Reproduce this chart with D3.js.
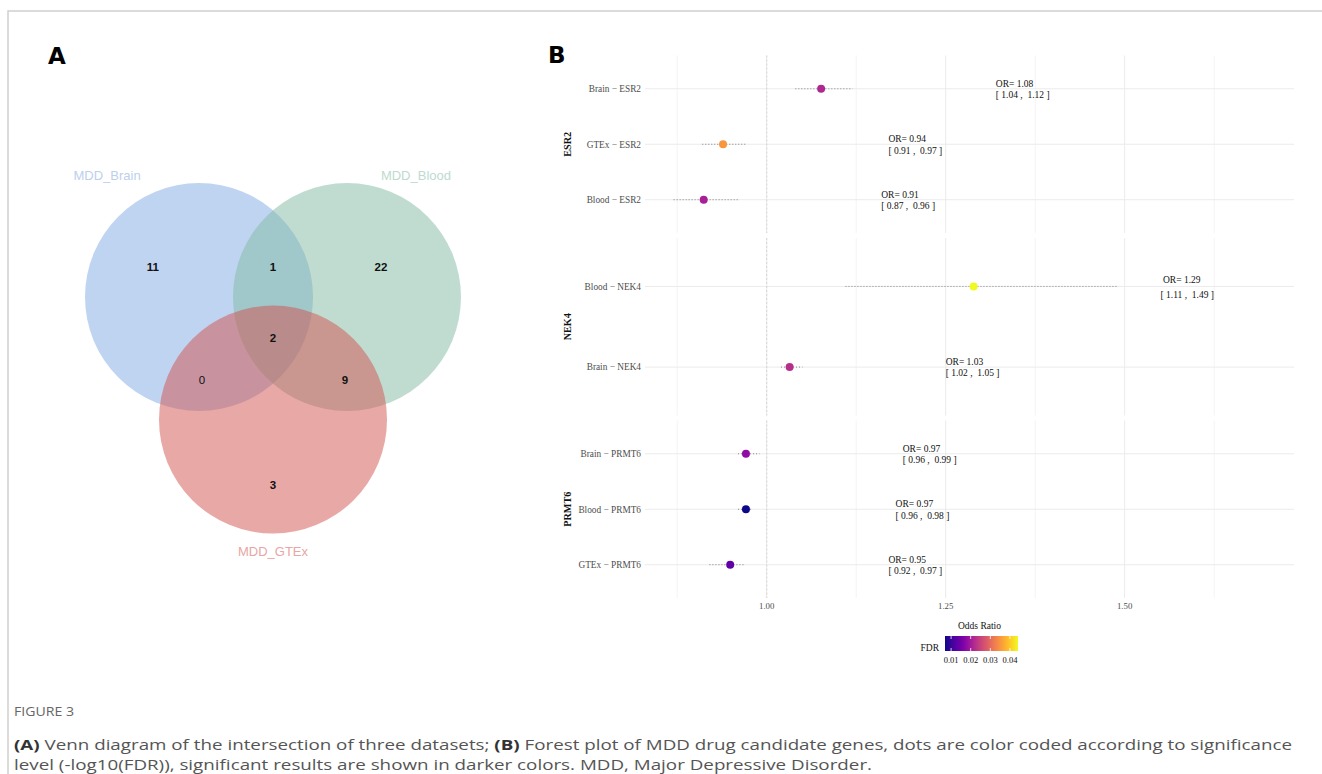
<!DOCTYPE html>
<html>
<head>
<meta charset="utf-8">
<script src="https://cdn.jsdelivr.net/npm/d3@7"></script>
<style>
  body { margin: 0; background: #fff; }
  svg text { white-space: pre; }
</style>
</head>
<body>
<svg id="chart" width="1322" height="774"></svg>
<script>
// ---------------- DATA ----------------
// Venn (panel A)
const vennSets = ["MDD_Brain", "MDD_Blood", "MDD_GTEx"];
const vennRegions = ["Brain", "Brain&Blood", "Blood", "Brain&Blood&GTEx", "Brain&GTEx", "Blood&GTEx", "GTEx"];
const vennCounts = [11, 1, 22, 2, 0, 9, 3];

// Forest plot (panel B), rows listed top-to-bottom within each gene facet
const genes = ["ESR2", "NEK4", "PRMT6"];
const rowLabels = ["Brain − ESR2", "GTEx − ESR2", "Blood − ESR2",
                   "Blood − NEK4", "Brain − NEK4",
                   "Brain − PRMT6", "Blood − PRMT6", "GTEx − PRMT6"];
const rowGene = ["ESR2", "ESR2", "ESR2", "NEK4", "NEK4", "PRMT6", "PRMT6", "PRMT6"];
const orValues = [1.076, 0.939, 0.912, 1.289, 1.032, 0.971, 0.971, 0.949];
const ciLow   = [1.04, 0.91, 0.87, 1.11, 1.02, 0.96, 0.96, 0.92];
const ciHigh  = [1.12, 0.97, 0.96, 1.49, 1.05, 0.99, 0.98, 0.97];
const fdrValues = [0.0215, 0.035, 0.0205, 0.044, 0.0225, 0.018, 0.007, 0.0135];
const xTicks = [1.00, 1.25, 1.50];
const xMinorTicks = [0.875, 1.125, 1.375, 1.625];
const fdrTicks = [0.01, 0.02, 0.03, 0.04];

// ---------------- LAYOUT ----------------
const svg = d3.select("#chart");
const serif = "'Liberation Serif', 'DejaVu Serif', serif";
const sans = "'Liberation Sans', Arial, sans-serif";

// frame
svg.append("path").attr("d", "M8,774 V11 H1322")
  .attr("fill", "none").attr("stroke", "#cfcfcf").attr("stroke-width", 1.5);

// panel letters
svg.append("text").attr("x", 48).attr("y", 64).text("A")
  .attr("font-family", "'DejaVu Sans', sans-serif").attr("font-weight", "bold").attr("font-size", 23);
svg.append("text").attr("x", 548).attr("y", 63).text("B")
  .attr("font-family", "'DejaVu Sans', sans-serif").attr("font-weight", "bold").attr("font-size", 23);

// ---------------- VENN ----------------
const vUnit = 114;
const vx = d3.scaleLinear().domain([0, 1]).range([273, 273 + vUnit]);
const vy = d3.scaleLinear().domain([0, 1]).range([297, 297 + vUnit]);
const circleLayout = [{cx: -0.649, cy: 0}, {cx: 0.649, cy: 0}, {cx: 0, cy: 1.075}];
const circleFill = ["#7fa9e1", "#81b9a1", "#d1514d"];
const setLabelColor = ["#bcd0ee", "#bddbcf", "#e8a6a4"];
const setLabelPos = [{x: -1.456, y: -1.07}, {x: 1.254, y: -1.07}, {x: 0, y: 2.23}];
const regionPos = [{x: -1.053, y: -0.263}, {x: 0, y: -0.263}, {x: 0.947, y: -0.263},
                   {x: 0, y: 0.36}, {x: -0.623, y: 0.728}, {x: 0.632, y: 0.728}, {x: 0, y: 1.65}];

const gV = svg.append("g");
gV.selectAll("circle").data(vennSets).join("circle")
  .attr("cx", (d, i) => vx(circleLayout[i].cx))
  .attr("cy", (d, i) => vy(circleLayout[i].cy))
  .attr("r", vx(1) - vx(0))
  .attr("fill", (d, i) => circleFill[i])
  .attr("fill-opacity", 0.5);
gV.selectAll("text.set").data(vennSets).join("text").attr("class", "set")
  .attr("x", (d, i) => vx(setLabelPos[i].x))
  .attr("y", (d, i) => vy(setLabelPos[i].y))
  .attr("dy", "0.35em").attr("text-anchor", "middle")
  .attr("font-family", sans).attr("font-size", 13)
  .attr("fill", (d, i) => setLabelColor[i]).text(d => d);
gV.selectAll("text.cnt").data(vennCounts).join("text").attr("class", "cnt")
  .attr("x", (d, i) => vx(regionPos[i].x))
  .attr("y", (d, i) => vy(regionPos[i].y))
  .attr("dy", "0.35em").attr("text-anchor", "middle")
  .attr("font-family", sans).attr("font-weight", (d) => d === 0 ? "normal" : "bold")
  .attr("font-size", 11.5).attr("fill", "#111").text(d => d);

// ---------------- FOREST ----------------
const panelLeft = 645, panelRight = 1294;
const x = d3.scaleLinear().domain([0.83, 1.7365]).range([panelLeft, panelRight]);
const panelTop0 = 55.5, panelH = 177.5, panelGap = 5;
const color = d3.scaleSequential(d3.interpolatePlasma).domain([0.0069, 0.0441]);

const rows = rowLabels.map((lab, i) => ({
  label: lab, gene: rowGene[i], or: orValues[i], lo: ciLow[i], hi: ciHigh[i], fdr: fdrValues[i]
}));

const gF = svg.append("g");
genes.forEach((gene, gi) => {
  const top = panelTop0 + gi * (panelH + panelGap);
  const bottom = top + panelH;
  const pr = rows.filter(r => r.gene === gene);
  const y = d3.scalePoint().domain(pr.map(r => r.label)).range([top, bottom]).padding(0.6);
  const g = gF.append("g");

  // minor vertical grid
  g.selectAll("line.vmin").data(xMinorTicks).join("line").attr("class", "vmin")
    .attr("x1", d => x(d)).attr("x2", d => x(d)).attr("y1", top).attr("y2", bottom)
    .attr("stroke", "#f1f1f1").attr("stroke-width", 0.8);
  // major vertical grid
  g.selectAll("line.vmaj").data(xTicks).join("line").attr("class", "vmaj")
    .attr("x1", d => x(d)).attr("x2", d => x(d)).attr("y1", top).attr("y2", bottom)
    .attr("stroke", "#ebebeb").attr("stroke-width", 1);
  // horizontal grid
  g.selectAll("line.h").data(pr).join("line").attr("class", "h")
    .attr("x1", panelLeft).attr("x2", panelRight)
    .attr("y1", d => y(d.label)).attr("y2", d => y(d.label))
    .attr("stroke", "#ebebeb").attr("stroke-width", 1);
  // reference line at OR = 1
  g.append("line").attr("x1", x(1)).attr("x2", x(1)).attr("y1", top).attr("y2", bottom)
    .attr("stroke", "#cfcfcf").attr("stroke-width", 0.8).attr("stroke-dasharray", "2,2");

  // CI lines
  g.selectAll("line.ci").data(pr).join("line").attr("class", "ci")
    .attr("x1", d => x(d.lo)).attr("x2", d => x(d.hi))
    .attr("y1", d => y(d.label)).attr("y2", d => y(d.label))
    .attr("stroke", "#777").attr("stroke-width", 0.9).attr("stroke-dasharray", "1,2");
  // points
  g.selectAll("circle").data(pr).join("circle")
    .attr("cx", d => x(d.or)).attr("cy", d => y(d.label)).attr("r", 4)
    .attr("fill", d => color(d.fdr));

  // row labels
  g.selectAll("text.row").data(pr).join("text").attr("class", "row")
    .attr("x", panelLeft - 4).attr("y", d => y(d.label)).attr("dy", "0.35em")
    .attr("text-anchor", "end").attr("font-family", serif).attr("font-size", 9.3)
    .attr("fill", "#4d4d4d").text(d => d.label);

  // OR annotations (wider spacing when the label is pushed in from the right edge)
  const ann = g.selectAll("text.ann").data(pr).join("text").attr("class", "ann")
    .attr("font-family", serif).attr("font-size", 9.5).attr("fill", "#111");
  const annX = d => x(Math.min(d.hi + 0.2, 1.55));
  const pushed = d => d.hi + 0.2 > 1.55;
  ann.append("tspan")
    .attr("x", d => annX(d) + (pushed(d) ? 2.5 : 0))
    .attr("y", d => y(d.label) - (pushed(d) ? 7 : 5.5)).attr("dy", "0.35em")
    .text(d => "OR= " + d.or.toFixed(2));
  ann.append("tspan")
    .attr("x", annX).attr("y", d => y(d.label) + (pushed(d) ? 8 : 6)).attr("dy", "0.35em")
    .text(d => "[ " + d.lo.toFixed(2) + " ,  " + d.hi.toFixed(2) + " ]");

  // facet strip label
  g.append("text")
    .attr("transform", `translate(${567},${(top + bottom) / 2}) rotate(-90)`)
    .attr("text-anchor", "middle").attr("dy", "0.35em")
    .attr("font-family", serif).attr("font-weight", "bold").attr("font-size", 10.2)
    .attr("fill", "#111").text(gene);
});

// x axis tick labels
const axisY = panelTop0 + 3 * panelH + 2 * panelGap;
gF.selectAll("text.xt").data(xTicks).join("text").attr("class", "xt")
  .attr("x", d => x(d)).attr("y", axisY + 8).attr("dy", "0.35em")
  .attr("text-anchor", "middle").attr("font-family", serif).attr("font-size", 8.8)
  .attr("fill", "#4d4d4d").text(d => d.toFixed(2));
// x axis title
gF.append("text").attr("x", (panelLeft + panelRight) / 2 + 10).attr("y", axisY + 28).attr("dy", "0.35em")
  .attr("text-anchor", "middle").attr("font-family", serif).attr("font-size", 9.5)
  .attr("fill", "#111").text("Odds Ratio");

// ---------------- LEGEND ----------------
const lgX0 = 945, lgX1 = 1018, lgY = 636, lgH = 15;
const lx = d3.scaleLinear().domain(color.domain()).range([lgX0, lgX1]);
const defs = svg.append("defs");
const grad = defs.append("linearGradient").attr("id", "plasmaGrad");
d3.range(0, 1.0001, 0.05).forEach(t => {
  grad.append("stop").attr("offset", t).attr("stop-color", d3.interpolatePlasma(t));
});
const gL = svg.append("g");
gL.append("rect").attr("x", lgX0).attr("y", lgY).attr("width", lgX1 - lgX0).attr("height", lgH)
  .attr("fill", "url(#plasmaGrad)");
gL.selectAll("line.tt").data(fdrTicks).join("line").attr("class", "tt")
  .attr("x1", d => lx(d)).attr("x2", d => lx(d)).attr("y1", lgY).attr("y2", lgY + 3)
  .attr("stroke", "#fff").attr("stroke-width", 0.8);
gL.selectAll("line.tb").data(fdrTicks).join("line").attr("class", "tb")
  .attr("x1", d => lx(d)).attr("x2", d => lx(d)).attr("y1", lgY + lgH - 3).attr("y2", lgY + lgH)
  .attr("stroke", "#fff").attr("stroke-width", 0.8);
gL.selectAll("text.tl").data(fdrTicks).join("text").attr("class", "tl")
  .attr("x", d => lx(d)).attr("y", lgY + lgH + 9).attr("dy", "0.35em")
  .attr("text-anchor", "middle").attr("font-family", serif).attr("font-size", 8.5)
  .attr("fill", "#111").text(d => d.toFixed(2));
gL.append("text").attr("x", 939).attr("y", lgY + lgH).attr("dy", "0em")
  .attr("text-anchor", "end").attr("font-family", serif).attr("font-size", 9.5)
  .attr("fill", "#111").text("FDR");

// ---------------- CAPTION ----------------
const capFont = "'Open Sans', 'Noto Sans', sans-serif";
svg.append("text").attr("x", 14).attr("y", 716).text("FIGURE 3")
  .attr("font-family", capFont).attr("font-size", 12).attr("fill", "#666")
  .attr("textLength", 60).attr("lengthAdjust", "spacingAndGlyphs");
const cap1 = svg.append("text").attr("x", 14).attr("y", 750)
  .attr("font-family", capFont).attr("font-size", 15).attr("fill", "#555")
  .attr("textLength", 1278).attr("lengthAdjust", "spacingAndGlyphs");
cap1.append("tspan").attr("font-weight", "bold").attr("fill", "#333").text("(A)");
cap1.append("tspan").text(" Venn diagram of the intersection of three datasets; ");
cap1.append("tspan").attr("font-weight", "bold").attr("fill", "#333").text("(B)");
cap1.append("tspan").text(" Forest plot of MDD drug candidate genes, dots are color coded according to significance");
svg.append("text").attr("x", 14).attr("y", 770)
  .attr("font-family", capFont).attr("font-size", 15).attr("fill", "#555")
  .attr("textLength", 858).attr("lengthAdjust", "spacingAndGlyphs")
  .text("level (-log10(FDR)), significant results are shown in darker colors. MDD, Major Depressive Disorder.");
</script>
</body>
</html>
